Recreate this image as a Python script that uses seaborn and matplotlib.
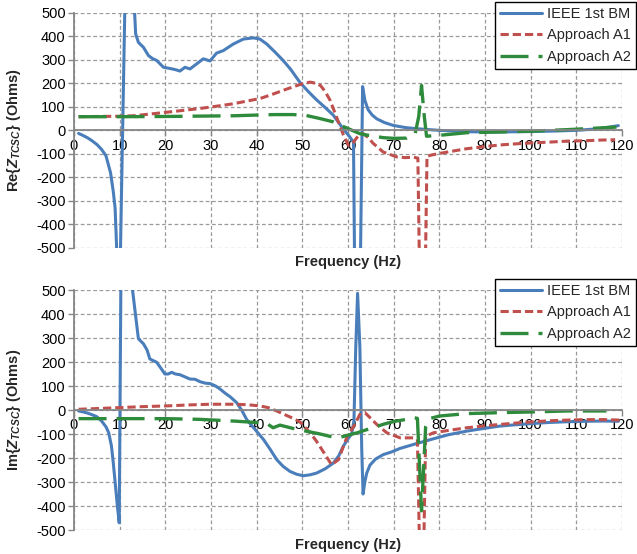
import matplotlib
matplotlib.use("Agg")
import matplotlib.pyplot as plt
import seaborn as sns
from matplotlib.lines import Line2D

# ---------------- data ----------------
series_labels = ["IEEE 1st BM", "Approach A1", "Approach A2"]
x_ticks = list(range(0, 121, 10))
y_ticks = list(range(-500, 501, 100))

# Real part (top)
blue_re_f = [1, 2, 3, 4, 5, 6, 7, 8, 8.6, 9.0, 9.3, 9.6, 10.0, 11.3, 12.9, 13.5, 14.1, 15.2,
             16.3, 17.2, 18.1, 19.6, 21.0, 22.2, 23.2, 24.3, 25.4, 26.9, 28.3, 29.8, 31.2,
             32.7, 34.9, 37.1, 39.3, 40.7, 42.2, 44.0, 45.8, 47.5, 49.5, 51.3, 53.1, 55.0,
             56.8, 59.0, 60.4, 61.2, 61.6, 62.5, 63.2, 63.7, 64.4, 65.3, 66.3, 68.0, 69.9,
             72.5, 75.0, 80.0, 86.0, 93.0, 100.5, 105, 110, 115, 119.2]
blue_re_v = [-13, -22, -32, -45, -60, -80, -108, -180, -260, -330, -480, -700, -700, 700, 650,
             410, 374, 353, 318, 305, 297, 268, 263, 258, 252, 268, 261, 283, 304, 295, 328,
             339, 367, 388, 393, 388, 367, 333, 297, 258, 203, 165, 130, 97,
             64, 5, -28, -50, -900, -900, 186, 127, 88, 65, 49, 33, 21,
             12, 7, 0, -6, -7, -5, -3, 0, 7, 20]

red_re_f = [1, 5, 10, 13, 17, 20.3, 24, 27.6, 31, 34.9, 38, 40.7, 43, 45.8, 48, 50, 51.7, 53,
            54, 55, 56.1, 57.5, 59, 60.1, 61.2, 62.3, 63.3, 64.4, 65.5, 67.7, 70.7, 72.5,
            74.3, 75.3, 75.9, 76.7, 77.3, 78.5, 80.1, 83, 86, 90, 93.3, 97, 100.6, 104,
            107.9, 112, 116, 118.5]
red_re_v = [58, 59, 60, 62, 70, 77, 85, 93, 102, 113, 125, 135, 150, 170, 185, 198, 205, 200,
            190, 165, 127, 56, -20, -64, -50, -22, -14, -30, -55, -92, -113, -116,
            -114, -118, -900, -900, -110, -104, -98, -88, -78, -69, -62, -57, -53, -50,
            -46, -44, -41, -40]

green_re_f = [1, 10, 20, 30, 35, 40, 44, 48, 50.9, 53.9, 56.8, 59, 62.6, 64.1, 67.7, 70, 72.8,
              74.7, 75.5, 76.1, 76.7, 77.2, 80.1, 86, 93, 100.5, 108, 113, 118.8]
green_re_v = [58, 58, 59, 61, 62, 65, 67, 67, 63, 50, 36, 16, -14, -20, -31, -34, -33,
              -15, 60, 191, 60, -25, -21, -10, -7, -3, 3, 8, 14]

# Imaginary part (bottom)
blue_im_f = [1, 2, 3, 4, 5, 6, 7, 7.6, 8.2, 8.6, 9.0, 9.5, 9.9, 10.4, 12.5, 14.1, 15.2, 16.0,
             16.6, 17.4, 18.1, 19.0, 19.9, 20.6, 21.4, 22.2, 23.2, 24.3, 25.4, 26.5, 27.6,
             28.7, 29.8, 31.0, 32.0, 33.1, 34.2, 35.6, 36.7, 37.8, 39.6, 41.5, 43.0, 44.4,
             45.8, 47.3, 48.8, 50.2, 51.7, 53.1, 55.0, 56.8, 58.0, 59.0, 60.0, 60.8, 61.3,
             61.7, 62.1, 62.6, 63.0, 63.3, 63.7, 64.1, 64.8, 66.0, 67.7, 69.5, 71.4, 75.0,
             78.7, 82, 86, 90, 93.3, 97, 100.6, 104, 107.9, 112, 116, 119.2]
blue_im_v = [-4, -8, -13, -20, -28, -45, -70, -95, -150, -220, -300, -400, -470, 900, 550, 297,
             276, 250, 213, 205, 199, 175, 150, 150, 157, 150, 147, 138, 129, 128, 118,
             112, 110, 100, 87, 70, 55, 31, 0, -39, -80, -123, -165, -207,
             -235, -256, -268, -274, -270, -263, -245, -221, -190, -150, -120, -100, -46,
             262, 486, 262, -158, -350, -298, -263, -230, -205, -186, -175, -160, -140,
             -120, -103, -88, -76, -67, -61, -56, -52, -49, -47, -46, -47]

red_im_f = [1, 5, 10, 15, 20.3, 25, 29.8, 34.9, 38, 40.7, 42.5, 44.4, 46, 48, 49.5, 51.7,
            53.1, 54.8, 56.4, 57.9, 59.7, 61.5, 62.6, 63.7, 65, 66.3, 68.5, 71.4, 74.3, 75.2,
            76.0, 76.3, 77.0, 78.7, 82, 86, 90, 93.3, 97, 100.6, 104, 107.9, 112, 116, 119.5]
red_im_v = [3, 6, 10, 14, 17, 21, 24, 24, 22, 17, 10, -4, -18, -35, -50, -95,
            -130, -180, -228, -207, -116, -60, -18, -11, -35, -60, -95, -116, -116, -120,
            -900, -900, -110, -95, -85, -74, -66, -60, -54, -49, -45, -42, -40, -40, -42]

green_im_f = [1, 10, 20, 27.6, 34.9, 40.7, 42.5, 43.6, 45.1, 48, 50, 53.9, 56.1, 58, 60, 62,
              64.1, 66, 68, 70, 72.8, 74.5, 75.2, 76.1, 77.0, 78, 80.1, 86, 93.3, 100.6, 108,
              116.6]
green_im_v = [-36, -36, -36, -39, -46, -53, -60, -74, -63, -77, -85, -100, -110, -115, -105,
              -95, -82, -70, -58, -48, -39, -32, -35, -420, -70, -35, -25, -15, -11, -8, -4,
              -4]

# ---------------- style ----------------
sns.set_theme(style="white")
plt.rcParams['font.family'] = ['Liberation Sans', 'DejaVu Sans']
plt.rcParams['mathtext.fontset'] = 'custom'
plt.rcParams['mathtext.it'] = 'Liberation Sans:italic:bold'
plt.rcParams['mathtext.rm'] = 'Liberation Sans:bold'
plt.rcParams['mathtext.bf'] = 'Liberation Sans:bold'

BLUE, RED, GREEN = "#4A7EBB", "#C0504D", "#2E8B3C"
styles = [
    dict(color=BLUE, linestyle='-', linewidth=2.2),
    dict(color=RED, linestyle=(0, (2.7, 1.3)), linewidth=2.2),
    dict(color=GREEN, linestyle=(0, (8.4, 3.0)), linewidth=2.4),
]
AXC = "#868686"
FS = 10.5

W, H = 637, 554
fig = plt.figure(figsize=(W / 100, H / 100), dpi=100)


def axes_px(l, t, r, b):
    return fig.add_axes([l / W, 1 - b / H, (r - l) / W, (b - t) / H])


def draw(ax, data, ylabel, legend_top_px, xlabel_y):
    for (f, v), st in zip(data, styles):
        sns.lineplot(x=f, y=v, ax=ax, estimator=None, sort=False, legend=False, **st)
    ax.set_xlim(0, 120)
    ax.set_ylim(-500, 500)
    ax.set_xticks(x_ticks)
    ax.set_yticks(y_ticks)
    ax.set_xticklabels([str(t) for t in x_ticks])
    ax.set_yticklabels([str(t) for t in y_ticks])
    ax.grid(True, color='#9a9a9a', linestyle=(0, (3, 2)), linewidth=0.9)
    ax.set_axisbelow(True)
    for s in ['top', 'right']:
        ax.spines[s].set_visible(False)
    ax.spines['bottom'].set_position(('data', 0))
    ax.spines['bottom'].set_color(AXC)
    ax.spines['bottom'].set_linewidth(1.3)
    ax.spines['left'].set_color(AXC)
    ax.spines['left'].set_linewidth(1.3)
    ax.tick_params(axis='both', length=4, width=1, color=AXC, labelsize=FS, pad=2,
                   labelcolor='black', direction='out', bottom=True, left=True)
    ax.set_xlabel('Frequency (Hz)', fontweight='bold', fontsize=FS)
    ax.xaxis.set_label_coords(0.5, xlabel_y)
    ax.set_ylabel(ylabel, fontweight='bold', fontsize=FS)
    ax.yaxis.set_label_coords(-0.093, 0.5)
    handles = [Line2D([], [], **st) for st in styles]
    leg = ax.legend(handles, series_labels, loc='upper right',
                    bbox_to_anchor=(636 / W, 1 - legend_top_px / H),
                    bbox_transform=fig.transFigure, frameon=True, fancybox=False,
                    edgecolor='black', framealpha=1, borderaxespad=0, handlelength=2.9,
                    handletextpad=0.35, labelspacing=0.5, fontsize=FS, borderpad=0.35)
    leg.get_frame().set_linewidth(1.0)


ax1 = axes_px(74, 12.7, 622, 248)
ax2 = axes_px(74, 290, 622, 530)

draw(ax1, [(blue_re_f, blue_re_v), (red_re_f, red_re_v), (green_re_f, green_re_v)],
     r'Re{$Z_{TCSC}$} (Ohms)', 2, -0.03)
draw(ax2, [(blue_im_f, blue_im_v), (red_im_f, red_im_v), (green_im_f, green_im_v)],
     r'Im{$Z_{TCSC}$} (Ohms)', 279, -0.033)

fig.savefig("out.png", dpi=100)
